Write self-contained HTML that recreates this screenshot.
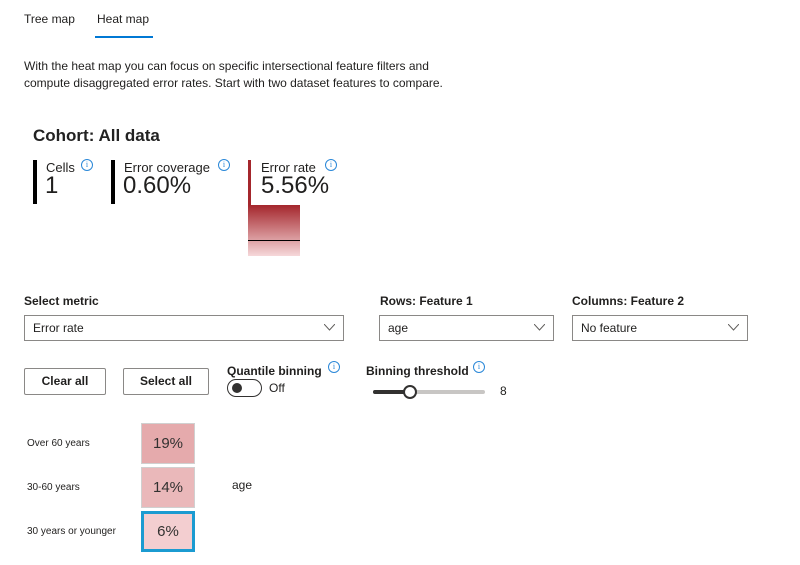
<!DOCTYPE html>
<html><head><meta charset="utf-8"><style>
body{margin:0;width:800px;height:565px;background:#fff;font-family:"Liberation Sans",sans-serif;color:#201f1e;position:relative;overflow:hidden}
.a{position:absolute;white-space:nowrap}
.info{position:absolute;width:10px;height:10px;border:1px solid #2b88d8;border-radius:50%;font-size:8px;color:#2b88d8;text-align:center;line-height:10px;font-family:"Liberation Serif",serif}
.dd{position:absolute;height:26px;border:1px solid #8a8886;box-sizing:border-box;font-size:12px;line-height:24px;padding-left:8px}
.dd svg{position:absolute;right:8px;top:8px}
.btn{position:absolute;height:27px;border:1px solid #8a8886;border-radius:2px;box-sizing:border-box;font-size:12px;font-weight:bold;text-align:center;line-height:25px}
.lbl{font-size:12px;font-weight:bold}
</style></head><body>
<div class="a" style="left:24px;top:12px;font-size:12px">Tree map</div>
<div class="a" style="left:97px;top:12px;font-size:12px">Heat map</div>
<div class="a" style="left:95px;top:36px;width:58px;height:2px;background:#0078d4"></div>
<div class="a" style="left:24px;top:58px;font-size:12px;line-height:17px">With the heat map you can focus on specific intersectional feature filters and<br>compute disaggregated error rates. Start with two dataset features to compare.</div>
<div class="a" style="left:33px;top:126px;font-size:17px;font-weight:600;color:#222">Cohort: All data</div>

<div class="a" style="left:33px;top:160px;width:4px;height:44px;background:#000"></div>
<div class="a" style="left:46px;top:160px;font-size:13px">Cells</div>
<div class="info" style="left:81px;top:159px">i</div>
<div class="a" style="left:45px;top:172px;font-size:24px">1</div>

<div class="a" style="left:111px;top:160px;width:4px;height:44px;background:#000"></div>
<div class="a" style="left:124px;top:160px;font-size:13px">Error coverage</div>
<div class="info" style="left:218px;top:159px">i</div>
<div class="a" style="left:123px;top:172px;font-size:24px">0.60%</div>

<div class="a" style="left:248px;top:160px;width:3px;height:46px;background:#a4262c"></div>
<div class="a" style="left:248px;top:205px;width:52px;height:51px;background:linear-gradient(#a4262c,#f6d8da)"></div>
<div class="a" style="left:248px;top:240px;width:52px;height:1px;background:#000"></div>
<div class="a" style="left:261px;top:160px;font-size:13px">Error rate</div>
<div class="info" style="left:325px;top:159px">i</div>
<div class="a" style="left:261px;top:172px;font-size:24px">5.56%</div>

<div class="a lbl" style="left:24px;top:294px">Select metric</div>
<div class="dd" style="left:24px;top:315px;width:320px">Error rate<svg width="11" height="7"><path d="M0 0L5.5 6 11 0" fill="none" stroke="#605e5c"/></svg></div>
<div class="a lbl" style="left:380px;top:294px">Rows: Feature 1</div>
<div class="dd" style="left:379px;top:315px;width:175px">age<svg width="11" height="7"><path d="M0 0L5.5 6 11 0" fill="none" stroke="#605e5c"/></svg></div>
<div class="a lbl" style="left:572px;top:294px">Columns: Feature 2</div>
<div class="dd" style="left:572px;top:315px;width:176px">No feature<svg width="11" height="7"><path d="M0 0L5.5 6 11 0" fill="none" stroke="#605e5c"/></svg></div>

<div class="btn" style="left:24px;top:368px;width:82px">Clear all</div>
<div class="btn" style="left:123px;top:368px;width:86px">Select all</div>
<div class="a lbl" style="left:227px;top:364px">Quantile binning</div>
<div class="info" style="left:328px;top:361px">i</div>
<div class="a" style="left:227px;top:379px;width:35px;height:18px;border:1px solid #323130;border-radius:10px;box-sizing:border-box"><div style="position:absolute;left:4px;top:3px;width:10px;height:10px;border-radius:50%;background:#323130"></div></div>
<div class="a" style="left:269px;top:381px;font-size:12px">Off</div>
<div class="a lbl" style="left:366px;top:364px">Binning threshold</div>
<div class="info" style="left:473px;top:361px">i</div>
<div class="a" style="left:373px;top:390px;width:112px;height:4px;background:#c8c6c4;border-radius:2px"></div>
<div class="a" style="left:373px;top:390px;width:37px;height:4px;background:#323130;border-radius:2px"></div>
<div class="a" style="left:403px;top:385px;width:10px;height:10px;border:2px solid #323130;border-radius:50%;background:#fff"></div>
<div class="a" style="left:500px;top:384px;font-size:12px">8</div>

<div id="hm"></div>
<div class="a" style="left:232px;top:478px;font-size:12px">age</div>
<script>
const categories=["Over 60 years","30-60 years","30 years or younger"];
const values=[19,14,6];
const hm=document.getElementById('hm');
const maxV=25;
function color(v){const t=v/maxV;const r=Math.round(250-(250-222)*t),g=Math.round(222-(222-160)*t*1.1),b=Math.round(224-(224-162)*t*1.1);return `rgb(${r},${g},${b})`;}
function yPos(i){return 423+i*44;}
categories.forEach((c,i)=>{
 const l=document.createElement('div');l.className='a';
 
 
 l.style.cssText=`left:27px;top:${yPos(i)+15}px;font-size:10px`;l.textContent=c;hm.appendChild(l);
 const cell=document.createElement('div');cell.className='a';
 
 
 const sel=i===categories.length-1;
 cell.style.cssText=`left:141px;top:${yPos(i)}px;width:54px;height:41px;box-sizing:border-box;background:${color(values[i])};border:${sel?'3px solid #1b9bd1':'1px solid #d0d0d0'};font-size:15px;color:#323130;text-align:center;line-height:${sel?35:39}px`;
 cell.textContent=values[i]+'%';hm.appendChild(cell);
});
</script>
</body></html>
